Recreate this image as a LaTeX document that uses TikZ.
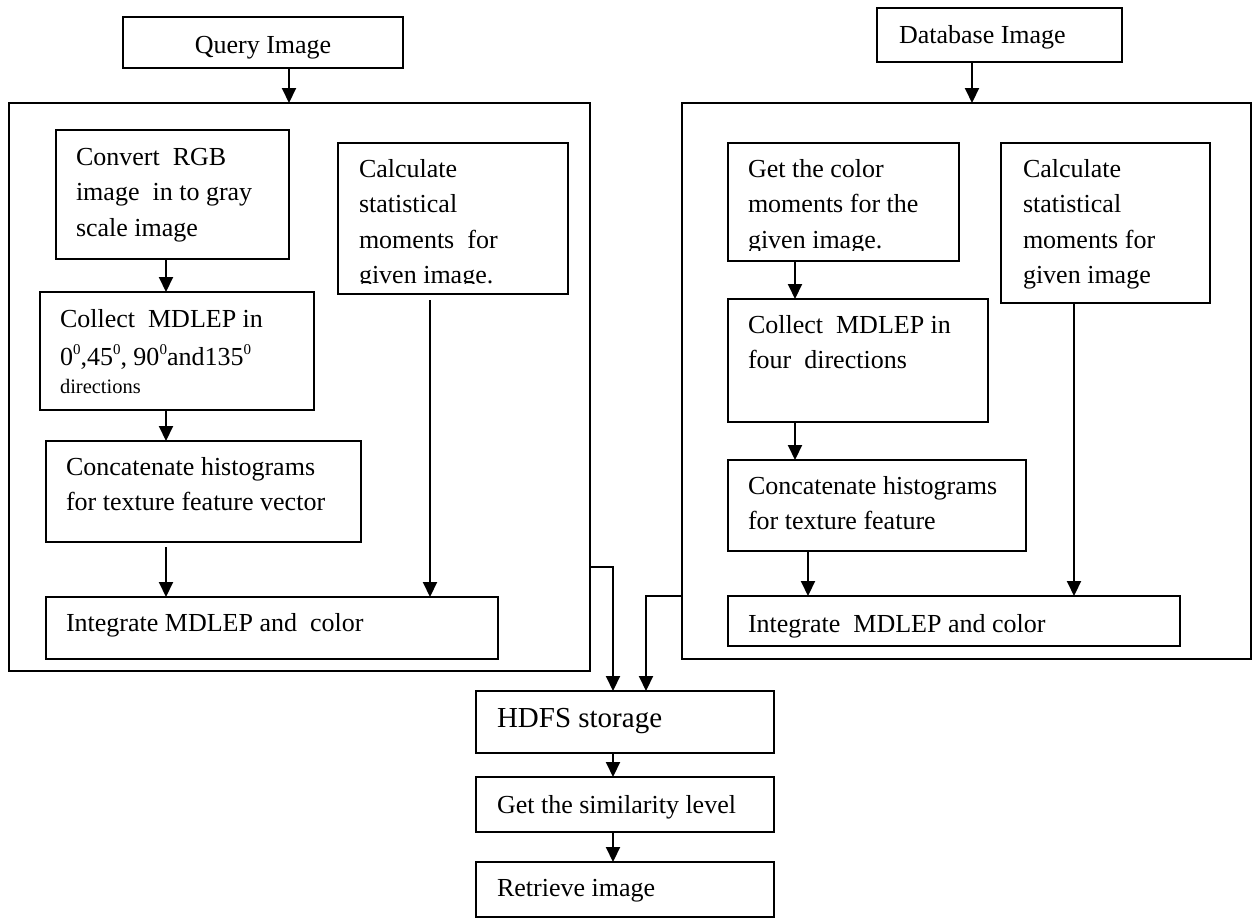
\documentclass[tikz,border=0pt]{standalone}
\usepackage{fontspec}
\setmainfont{Liberation Serif}
\usetikzlibrary{arrows.meta}
\newcommand\dg{\raisebox{10.5pt}{\fontsize{15}{15}\selectfont 0}}
\begin{document}
\begin{tikzpicture}[x=1pt,y=-1pt,
  box/.style={draw, line width=2pt, inner sep=0pt, outer sep=0pt, anchor=north west},
  txt/.style={inner sep=0pt, outer sep=0pt, anchor=north west, align=left, font=\fontsize{26}{35.5}\selectfont},
  arr/.style={line width=2pt, -{Triangle[width=14pt,length=15pt]}}]
\useasboundingbox[fill=white] (0,0) rectangle (1257,919);

% ---------- boxes ----------
\node[box, minimum width=280pt, minimum height=51pt] (query) at (123,17) {};
\node[box, minimum width=245pt, minimum height=54pt] (db) at (877,8) {};
\node[box, minimum width=581pt, minimum height=568pt] (lbig) at (9,103) {};
\node[box, minimum width=569pt, minimum height=556pt] (rbig) at (682,103) {};

\node[box, minimum width=233pt, minimum height=129pt] (conv) at (56,130) {};
\node[box, minimum width=230pt, minimum height=151pt] (calcL) at (338,143) {};
\node[box, minimum width=274pt, minimum height=118pt] (collL) at (40,292) {};
\node[box, minimum width=315pt, minimum height=101pt] (concL) at (46,441) {};
\node[box, minimum width=452pt, minimum height=62pt] (intL) at (46,597) {};

\node[box, minimum width=231pt, minimum height=118pt] (getc) at (728,143) {};
\node[box, minimum width=209pt, minimum height=160pt] (calcR) at (1001,143) {};
\node[box, minimum width=260pt, minimum height=123pt] (collR) at (728,299) {};
\node[box, minimum width=298pt, minimum height=91pt] (concR) at (728,460) {};
\node[box, minimum width=452pt, minimum height=50pt] (intR) at (728,596) {};

\node[box, minimum width=298pt, minimum height=62pt] (hdfs) at (476,691) {};
\node[box, minimum width=298pt, minimum height=55pt] (sim) at (476,777) {};
\node[box, minimum width=298pt, minimum height=55pt] (ret) at (476,862) {};

% ---------- texts ----------
\node[txt, anchor=base] (tquery) at (263,53) {Query Image};
\node[txt, anchor=base west] (tdb) at (899,43) {Database Image};

\node[txt] (tconv) at (76,140.15) {\strut Convert~ RGB\\image~ in to gray\\scale image};
\begin{scope}
  \clip (338,143) rectangle (568,283);
  \node[txt] (tcalcL) at (359,152.15) {\strut Calculate\\statistical\\moments~ for\\given image.};
\end{scope}
\node[txt] (tcollL) at (60,302.15) {\strut Collect~ MDLEP in\\[2.5pt]0\dg,45\dg, 90\dg and135\dg\\[-7.5pt]{\fontsize{20.5}{24}\selectfont directions}};
\node[txt] (tconcL) at (66,450.15) {\strut Concatenate histograms\\for texture feature vector};
\node[txt, anchor=base west] (tintL) at (66,631) {Integrate MDLEP and~ color};

\begin{scope}
  \clip (728,143) rectangle (959,250);
  \node[txt] (tgetc) at (748,152.15) {\strut Get the color\\moments for the\\given image.};
\end{scope}
\node[txt] (tcalcR) at (1023,152.15) {\strut Calculate\\statistical\\moments for\\given image};
\node[txt] (tcollR) at (748,308.15) {\strut Collect~ MDLEP in\\four~ directions};
\node[txt] (tconcR) at (748,469.15) {\strut Concatenate histograms\\for texture feature};
\node[txt, anchor=base west] (tintR) at (748,632) {Integrate~ MDLEP and color};

\node[txt, anchor=base west, font=\fontsize{29}{35}\selectfont] (thdfs) at (497,727) {HDFS storage};
\node[txt, anchor=base west] (tsim) at (497,813) {Get the similarity level};
\node[txt, anchor=base west] (tret) at (497,896) {Retrieve image};

% ---------- connectors ----------
\draw[arr] ([xshift=26pt]query.south) -- ([xshift=-10.5pt]lbig.north);
\draw[arr] ([xshift=-6.5pt]conv.south) -- ([xshift=-11pt]collL.north);
\draw[arr] ([xshift=-11pt]collL.south) -- ([xshift=-37.5pt]concL.north);
\draw[arr] ([xshift=-37.5pt,yshift=-5pt]concL.south) -- ([xshift=-106pt]intL.north);
\draw[arr] ([xshift=-23pt,yshift=-6pt]calcL.south) -- ([xshift=158pt]intL.north);

\draw[arr] ([xshift=-27.5pt]db.south) -- ([xshift=5.5pt]rbig.north);
\draw[arr] ([xshift=-48.5pt]getc.south) -- ([xshift=-63pt]collR.north);
\draw[arr] ([xshift=-63pt]collR.south) -- ([xshift=-82pt]concR.north);
\draw[arr] ([xshift=-69pt]concR.south) -- ([xshift=-146pt]intR.north);
\draw[arr] ([xshift=-31.5pt]calcR.south) -- ([xshift=120pt]intR.north);

\draw[arr] ([yshift=229pt]lbig.south east) -- ([yshift=104pt]lbig.south east) -| ([xshift=-12pt]hdfs.north);
\draw[arr] ([yshift=156pt]rbig.south west) -- ([yshift=63pt]rbig.south west) -| ([xshift=21pt]hdfs.north);
\draw[arr] ([xshift=-12pt]hdfs.south) -- ([xshift=-12pt]sim.north);
\draw[arr] ([xshift=-12pt]sim.south) -- ([xshift=-12pt]ret.north);
\end{tikzpicture}
\end{document}
